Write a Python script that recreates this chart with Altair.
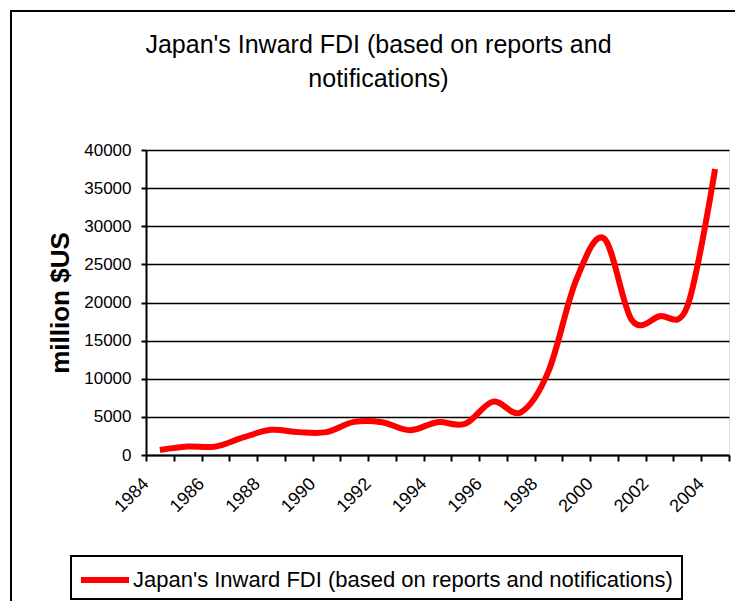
import altair as alt
import pandas as pd

# ---- data ----
years = list(range(1984, 2005))
fdi = [650, 1100, 1100, 2300, 3300, 3000, 3000, 4350, 4300, 3250, 4300,
       4100, 7000, 5600, 11000, 23000, 28400, 17700, 18200, 19500, 37500]
series_name = "Japan's Inward FDI (based on reports and notifications)"
title_lines = ["Japan's Inward FDI (based on reports and", "notifications)"]
y_title = "million $US"
y_ticks = list(range(0, 40001, 5000))
x_label_years = list(range(1984, 2005, 2))
x_tick_bounds = [y - 0.5 for y in range(1984, 2006)]

df = pd.DataFrame({"year": years, "fdi": fdi, "series": [series_name] * len(years)})

FONT = "Liberation Sans"

x_axis = alt.Axis(
    values=sorted(x_tick_bounds + x_label_years),
    labelExpr="datum.value % 2 == 0 ? toString(datum.value) : ''",
    labelAngle=-45, labelAlign="right", labelBaseline="middle",
    labelFontSize=18, labelFont=FONT, labelColor="black",
    labelOffset=-14, labelPadding=20, labelOverlap=False, labelFlush=False,
    labelBound=False,
    tickOpacity={"condition": {"test": "datum.value % 1 == 0", "value": 0}, "value": 1},
    tickSize=6, tickWidth=2, tickColor="black",
    domainColor="black", domainWidth=2, grid=False, title=None,
)

y_axis = alt.Axis(
    values=y_ticks, format="d",
    labelFontSize=17, labelFont=FONT, labelColor="black", labelPadding=10,
    tickSize=5, tickWidth=2, tickColor="black",
    domainColor="black", domainWidth=2,
    grid=True, gridColor="black", gridWidth=1.5,
    title=y_title, titleFont=FONT, titleFontSize=26, titleFontWeight="bold",
    titleColor="black", titleX=-78, titleY=152.5, titleAngle=-90,
    titleAlign="center", titleBaseline="alphabetic",
)

legend = alt.Legend(
    title=None, orient="none", legendX=-68, legendY=403,
    symbolType="stroke", symbolStrokeWidth=6, symbolSize=2304,
    labelFontSize=22, labelFont=FONT, labelColor="black", labelLimit=800,
    labelOffset=1, padding=0,
)

line = alt.Chart(df).mark_line(strokeWidth=6, interpolate="cardinal").encode(
    x=alt.X("year:Q", scale=alt.Scale(domain=[1983.5, 2004.5], nice=False, zero=False), axis=x_axis),
    y=alt.Y("fdi:Q", scale=alt.Scale(domain=[0, 40000], nice=False), axis=y_axis),
    color=alt.Color("series:N", scale=alt.Scale(range=["#ff0000"]), legend=legend),
)

frame = alt.Data(values=[{"frame": 1}])

# chart-area border: only the top and left edges fall inside the picture
border_top = alt.Chart(frame).mark_rule(color="black", strokeWidth=2).encode(
    x=alt.value(-136), x2=alt.value(700), y=alt.value(-139)
)
border_left = alt.Chart(frame).mark_rule(color="black", strokeWidth=2).encode(
    x=alt.value(-135), y=alt.value(-140), y2=alt.value(700)
)

legend_box = alt.Chart(frame).mark_rect(
    fill="white", stroke="black", strokeWidth=2
).encode(
    x=alt.value(-75), x2=alt.value(536), y=alt.value(406), y2=alt.value(449)
)

chart = alt.layer(border_top, border_left, legend_box, line).properties(
    width=583, height=305,
    autosize=alt.AutoSizeParams(type="none"),
    padding={"left": 146, "top": 150, "right": 6, "bottom": 146},
    title=alt.TitleParams(
        text=title_lines, font=FONT, fontSize=25, fontWeight="normal",
        color="black", anchor="middle", dx=-59, offset=-83, lineHeight=34,
    ),
).configure_view(stroke="transparent", strokeWidth=0).configure(background="white")

chart.save("out.html", embed_options={"renderer": "svg", "actions": False})
